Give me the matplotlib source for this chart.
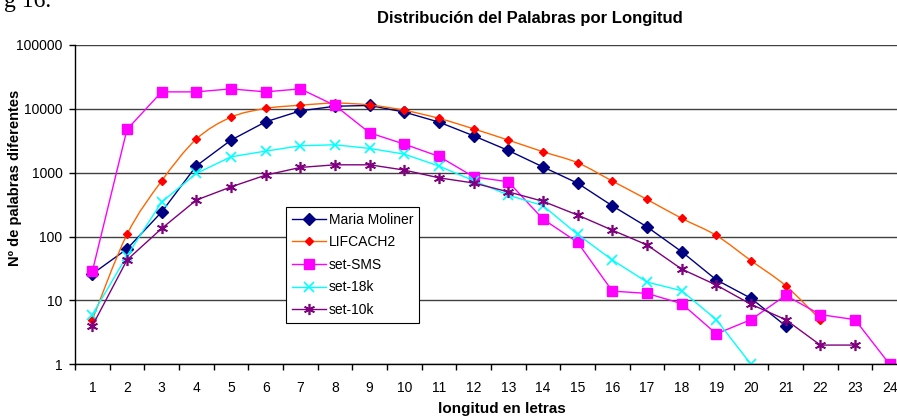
import matplotlib
matplotlib.use('Agg')
import numpy as np
import matplotlib.pyplot as plt
from matplotlib.path import Path
from matplotlib.patches import PathPatch
from matplotlib.lines import Line2D

plt.rcParams['font.family'] = ['Liberation Sans', 'DejaVu Sans']

# longitud de palabra (categorias del eje x)
longitudes = list(range(1, 25))

# numero de palabras diferentes por longitud
maria_moliner = [26, 64, 243, 1280, 3240, 6270, 9300, 11000, 11300, 8900,
                 6200, 3780, 2230, 1230, 685, 303, 142, 58, 21, 10.8, 4]
lifcach2 = [5, 108, 745, 3360, 7400, 10150, 11400, 12300, 11500, 9500,
            7100, 4860, 3240, 2130, 1430, 740, 382, 193, 104, 42, 17, 5]
set_sms = [28.5, 4760, 18450, 18450, 20560, 18450, 20560, 11300, 4210, 2800,
           1800, 863, 721, 188, 81, 14, 12.9, 8.9, 3, 5, 12, 6, 5, 1]
set_18k = [6, 50, 347, 975, 1775, 2180, 2640, 2740, 2400, 1955,
           1270, 750, 446, 305, 108, 43, 19.4, 14.2, 5, 1]
set_10k = [4, 43, 134, 373, 600, 917, 1210, 1330, 1330, 1100,
           832, 690, 502, 357, 217, 126, 74, 31, 17.4, 8.7, 5, 2, 2]


def smooth_path(xs, ys):
    # excel style smoothed line: bezier segments built in log space
    px = np.asarray(xs, float)
    py = np.log10(ys)
    n = len(px)
    verts = [(px[0], py[0])]
    codes = [Path.MOVETO]
    for i in range(n - 1):
        x0, y0 = (px[i - 1], py[i - 1]) if i > 0 else (px[i], py[i])
        x3, y3 = (px[i + 2], py[i + 2]) if i + 2 < n else (px[i + 1], py[i + 1])
        c1 = (px[i] + (px[i + 1] - x0) / 6, py[i] + (py[i + 1] - y0) / 6)
        c2 = (px[i + 1] - (x3 - px[i]) / 6, py[i + 1] - (y3 - py[i]) / 6)
        verts += [c1, c2, (px[i + 1], py[i + 1])]
        codes += [Path.CURVE4] * 3
    verts = [(vx, 10 ** vy) for vx, vy in verts]
    return Path(verts, codes)


W, H = 897, 418
fig = plt.figure(figsize=(W / 100, H / 100), dpi=100)
# plot area runs past the right edge of the picture (cropped chart)
ax = fig.add_axes([75 / W, (H - 364.3) / H, (907 - 75) / W, 319.3 / H])

l1, = ax.plot(longitudes[:len(maria_moliner)], maria_moliner, color='#000080', lw=1.0,
              marker='D', ms=6, mfc='#000080', mec='#000080', label='Maria Moliner')
ax.add_patch(PathPatch(smooth_path(longitudes[:len(lifcach2)], lifcach2),
                       fill=False, edgecolor='#FF6600', lw=1.0, zorder=2))
ax.plot(longitudes[:len(lifcach2)], lifcach2, ls='none',
        marker='D', ms=4.5, mfc='#FF0000', mec='#FF0000', zorder=2.1)
l2 = Line2D([], [], color='#FF6600', lw=1.0, marker='D', ms=4.5,
            mfc='#FF0000', mec='#FF0000', label='LIFCACH2')
l3, = ax.plot(longitudes[:len(set_sms)], set_sms, color='#FF00FF', lw=1.0,
              marker='s', ms=6.5, mfc='#FF00FF', mec='#FF00FF', label='set-SMS', zorder=2.2)
l4, = ax.plot(longitudes[:len(set_18k)], set_18k, color='#00FFFF', lw=1.0,
              marker='x', ms=7, mew=1.2, mec='#00FFFF', label='set-18k', zorder=2.3)
l5, = ax.plot(longitudes[:len(set_10k)], set_10k, color='#800080', lw=1.0,
              marker=(6, 2, 0), ms=8, mew=1.2, mec='#800080', label='set-10k', zorder=2.4)

ax.set_yscale('log')
ax.set_ylim(1, 100000)
ax.set_xlim(0.5, 24.5)
ax.set_yticks([1, 10, 100, 1000, 10000, 100000])
ax.set_yticklabels(['1', '10', '100', '1000', '10000', '100000'])
ax.yaxis.set_minor_locator(matplotlib.ticker.NullLocator())
ax.set_xticks(longitudes)
ax.set_xticklabels([str(v) for v in longitudes])
ax.set_xticks([v + 0.5 for v in range(0, 25)], minor=True)
ax.tick_params(axis='x', which='major', length=0, pad=12, labelsize=10)
ax.tick_params(axis='x', which='minor', length=4, width=1, direction='out')
ax.tick_params(axis='y', which='major', length=4, width=1, pad=5, labelsize=10)

ax.grid(axis='y', which='major', color='#404040', lw=1.0)
ax.set_axisbelow(True)
for s in ['top', 'right']:
    ax.spines[s].set_visible(False)
for s in ['left', 'bottom']:
    ax.spines[s].set_linewidth(1.0)
    ax.spines[s].set_color('black')

fig.text(529.5 / W, 1 - 19 / H, 'Distribución del Palabras por Longitud',
         ha='center', va='center', fontsize=12, fontweight='bold')
fig.text(501.5 / W, 1 - 409 / H, 'longitud en letras',
         ha='center', va='center', fontsize=11, fontweight='bold')
fig.text(15 / W, 1 - 177.5 / H, 'Nº de palabras diferentes', rotation=90,
         ha='center', va='center', fontsize=10.5, fontweight='bold')
fig.text(4 / W, 1 - 7 / H, 'g 16.', ha='left', va='baseline',
         fontsize=17, family='Liberation Serif')

leg = ax.legend(handles=[l1, l2, l3, l4, l5],
                loc='upper left', bbox_to_anchor=(286 / W, 1 - 207 / H),
                bbox_transform=fig.transFigure, borderaxespad=0,
                fancybox=False, framealpha=1, edgecolor='black',
                fontsize=10, handlelength=2.45, handletextpad=0.25,
                labelspacing=0.62, borderpad=0.4, numpoints=1)
leg.get_frame().set_linewidth(0.8)

fig.savefig('out.png', dpi=100)
